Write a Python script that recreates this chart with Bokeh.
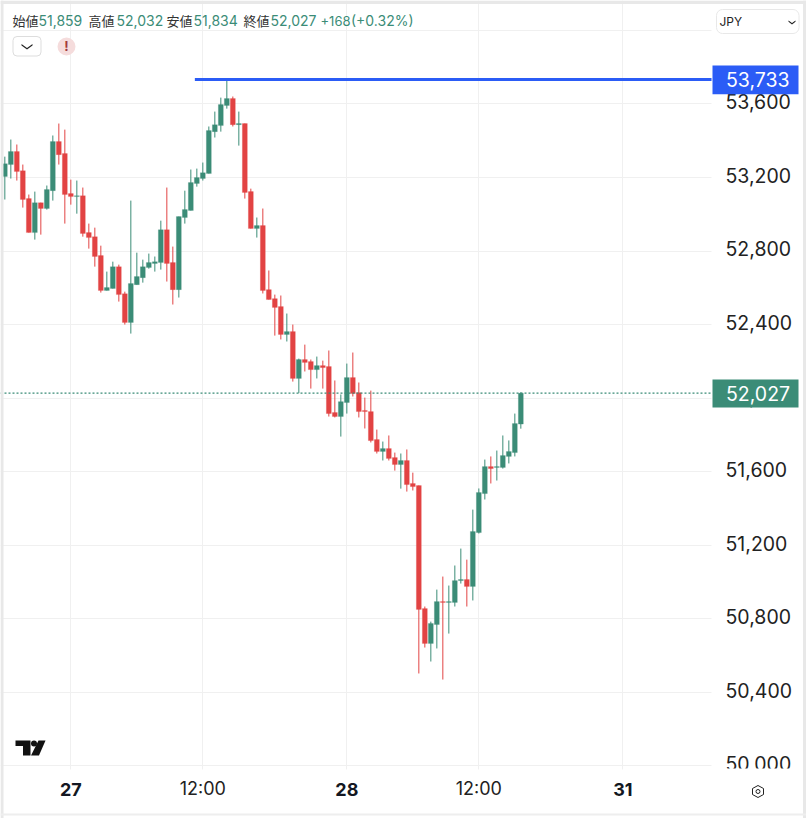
from bokeh.embed import file_html
from bokeh.resources import INLINE
from bokeh.plotting import figure
from bokeh.models import ColumnDataSource, Label, BoxAnnotation, PolyAnnotation, FixedTicker, Range1d, LinearAxis

opens = [53205,53270,53341,53237,53085,52900,53063,53031,53128,53395,53330,53112,53096,53101,52900,52878,52775,52585,52596,52715,52568,52411,52617,52655,52710,52732,52737,52916,52737,52590,52982,53020,53167,53194,53221,53449,53482,53591,53629,53487,53493,53123,52922,52938,52590,52541,52498,52346,52362,52107,52210,52199,52155,52177,52172,51922,51900,51976,52112,52030,51933,51927,51775,51710,51726,51677,51639,51661,51536,51525,50856,50666,50769,50894,50889,50889,51008,51014,50976,51269,51481,51628,51623,51623,51683,51704,51859]
highs = [53313,53406,53379,53270,53107,53123,53063,53156,53428,53493,53460,53188,53183,53145,52949,52927,52829,52688,52742,52726,52579,53074,52791,52753,52786,52770,52965,53145,52824,52987,53128,53243,53248,53281,53477,53558,53634,53733,53640,53558,53493,53139,52982,53031,52694,52563,52558,52460,52400,52215,52291,52210,52226,52204,52259,52096,52020,52188,52248,52085,52003,52041,51829,51764,51797,51704,51699,51721,51595,51525,50867,50785,50959,51030,50981,51090,51182,51122,51394,51509,51666,51683,51715,51797,51770,51916,52032]
lows = [53080,53194,53183,53036,52900,52862,52889,53025,53074,53270,52949,53052,53003,52878,52813,52715,52574,52585,52596,52525,52400,52351,52617,52628,52704,52688,52699,52634,52509,52547,52949,53020,53150,53183,53221,53417,53449,53574,53477,53373,53085,52922,52873,52569,52536,52340,52319,52308,52090,52027,52145,52052,52107,52052,51900,51895,51791,51916,52009,51895,51835,51759,51699,51661,51661,51606,51508,51492,51498,50503,50644,50568,50639,50470,50720,50867,50992,50867,50900,51264,51449,51536,51552,51617,51645,51683,51834]
closes = [53275,53341,53232,53080,52900,53063,53031,53134,53395,53324,53107,53096,53101,52895,52873,52770,52585,52601,52715,52563,52411,52623,52661,52715,52737,52742,52916,52732,52590,52987,53025,53172,53199,53226,53455,53487,53596,53629,53487,53493,53118,52922,52938,52585,52536,52493,52346,52362,52107,52210,52194,52155,52177,52166,51916,51900,51981,52112,52025,51927,51927,51769,51710,51726,51672,51639,51661,51530,51519,50851,50666,50775,50894,50889,50894,51008,51014,50976,51275,51487,51628,51617,51628,51688,51710,51862,52027]

price_ticks = [50000,50400,50800,51200,51600,52000,52400,52800,53200,53600,54000]
price_labels = ["50,000","50,400","50,800","51,200","51,600","52,000","52,400","52,800","53,200","53,600",""]
time_ticks = [11,33,57,79,103]
time_labels = ["27","12:00","28","12:00","31"]
bold_time = {"27","28","31"}
high_level = 53733
last_price = 52027
blue_start = 31.67

UP, DOWN, BLUE = "#3b8c77", "#e24343", "#2b5cf6"
GRID = "#f0f0f0"
FONT = "Inter"
FRAME_GREY = "#e8e8e8"

W, H = 806, 818
X0, X1 = -0.722, 133.61
Y0, Y1 = 49714.5, 54162
PANE_RIGHT = 117.78   # right edge of the price pane
PANE_BOTTOM = 49981   # bottom edge of the price pane

p = figure(width=W, height=H, output_backend="svg", toolbar_location=None,
           x_range=Range1d(X0, X1), y_range=Range1d(Y0, Y1),
           min_border_left=0, min_border_top=0, min_border_right=0, min_border_bottom=0,
           x_axis_location=None, y_axis_location=None, outline_line_color=None,
           background_fill_color="white", border_fill_color="white")

p.xgrid.ticker = FixedTicker(ticks=time_ticks)
p.ygrid.ticker = FixedTicker(ticks=price_ticks)
p.xgrid.grid_line_color = GRID
p.ygrid.grid_line_color = GRID


def sy(y):
    return H - y


def box(x0, y0, x1, y1, fill="white", line=None, radius=0, alpha=1.0, level="annotation"):
    p.add_layout(BoxAnnotation(left=x0, right=x1, top=sy(y0), bottom=sy(y1),
                               left_units="screen", right_units="screen", top_units="screen", bottom_units="screen",
                               fill_color=fill, fill_alpha=alpha, line_color=line, line_alpha=1, border_radius=radius,
                               editable=False, level=level))


def poly(pts, fill="black", line=None, width=1):
    p.add_layout(PolyAnnotation(xs=[a for a, _ in pts], ys=[sy(b) for _, b in pts],
                                xs_units="screen", ys_units="screen",
                                fill_color=fill, fill_alpha=1 if fill else 0, line_color=line, line_alpha=1,
                                line_width=width, editable=False))


def text(x, y, s, color="#333333", size=13, align="left", bold=False, font=FONT):
    p.add_layout(Label(x=x, y=sy(y), x_units="screen", y_units="screen", text=s, text_color=color,
                       text_font=font, text_font_size=f"{size}px", text_align=align, text_baseline="middle",
                       text_font_style="bold" if bold else "normal"))


# gridlines stop at the edge of the price pane
box(711, 0, 806, 818, level="underlay")
box(0, 769, 806, 818, level="underlay")

ax = LinearAxis(fixed_location=PANE_BOTTOM)
ax.ticker = FixedTicker(ticks=time_ticks)
ax.major_label_overrides = {t: ("" if l in bold_time else l) for t, l in zip(time_ticks, time_labels)}
ax.axis_line_color = None
ax.major_tick_line_color = None
ax.minor_tick_line_color = None
ax.major_label_text_font = FONT
ax.major_label_text_font_size = "18px"
ax.major_label_text_color = "#222222"
ax.major_label_standoff = 3
p.add_layout(ax, "below")

# price labels sit 2px above their gridlines, as in the reference
p.extra_y_ranges = {"labels": Range1d(Y0 - 11, Y1 - 11)}
ay = LinearAxis(y_range_name="labels", fixed_location=PANE_RIGHT)
ay.ticker = FixedTicker(ticks=price_ticks)
ay.major_label_overrides = dict(zip(price_ticks, price_labels))
ay.axis_line_color = None
ay.major_tick_line_color = None
ay.minor_tick_line_color = None
ay.major_label_text_font = FONT
ay.major_label_text_font_size = "19.5px"
ay.major_label_text_color = "#222222"
ay.major_label_standoff = 8
p.add_layout(ay, "right")

idx = list(range(len(opens)))
colors = [UP if c >= o else DOWN for o, c in zip(opens, closes)]
src = ColumnDataSource(dict(x=idx, o=opens, h=highs, l=lows, c=closes, color=colors,
                            top=[max(a, b) for a, b in zip(opens, closes)],
                            bot=[min(a, b) for a, b in zip(opens, closes)]))
p.segment("x", "h", "x", "l", source=src, line_color="color", line_width=1)
p.vbar("x", 0.83, "bot", "top", source=src, fill_color="color", line_color="color", line_width=0.2)

p.segment([blue_start], [high_level], [PANE_RIGHT], [high_level], line_color=BLUE, line_width=3)
p.segment([X0], [last_price], [PANE_RIGHT], [last_price], line_color=UP, line_width=1.2, line_dash="2 2")

# cover clipping the lowest price label at the pane edge
box(712, 768, 798, 779)

# card edge
box(0, 0, 3, 818, fill=FRAME_GREY)
box(0, 0, 806, 3.5, fill=FRAME_GREY)
box(802.5, 0, 806, 818, fill=FRAME_GREY)
box(0, 813, 806, 815, fill="#eeeeee")

# last value tags
box(712, 65, 798, 93.7, fill=BLUE)
text(725.5, 79, f"{high_level:,}", color="white", size=19.5)
box(712, 379, 798, 407, fill=UP)
text(725.5, 393, f"{last_price:,}", color="white", size=19.5)

# header
CJK = "Noto Sans CJK JP"
for x, s in [(12, "始値"), (88, "高値"), (166, "安値"), (243, "終値")]:
    text(x, 20, s, size=13, font=CJK)
for x, s in [(38, "51,859"), (116, "52,032"), (193, "51,834"), (270, "52,027")]:
    text(x, 20, s, color=UP, size=14)
text(320, 20, "+168", color=UP, size=13)
text(350.5, 20, "(+0.32%)", color=UP, size=14)

# collapse button and alert
box(12.5, 36, 40.5, 55.5, line="#dddddd", radius=4)
poly([(21, 43.5), (26.5, 47.5), (32, 43.5), (32, 45), (26.5, 49), (21, 45)], fill="#222222")
box(57, 37, 75, 55, fill="#f5dcdc", radius=9)
text(66, 45.5, "!", color="#a33a3a", size=13, align="center", bold=True)

# currency select
box(716, 9, 798.5, 33, line="#e8e8e8", radius=6)
text(719, 21, "JPY", color="#222222", size=12)
poly([(788, 20), (791.5, 22.5), (795, 20), (795, 21.2), (791.5, 24), (788, 21.2)], fill="#222222")

# bold day labels under the axis
for t, l in zip(time_ticks, time_labels):
    if l in bold_time:
        p.add_layout(Label(x=t, y=sy(789), x_units="data", y_units="screen", text=l, text_color="#131722",
                           text_font=FONT, text_font_size="18px", text_font_style="bold",
                           text_align="center", text_baseline="middle"))

# logo
poly([(15, 740), (30, 740), (30, 755), (22.5, 755), (22.5, 745.5), (15, 745.5)], fill="#111111")
box(30.5, 740, 36.5, 746, fill="#111111", radius=3)
poly([(38, 740), (45, 740), (38.5, 755), (30.5, 755)], fill="#111111")

# settings icon
poly([(757.5, 785), (763, 788), (763, 794), (757.5, 797), (752, 794), (752, 788)], fill=None, line="#222222")
box(755.5, 789, 759.5, 793, line="#222222", radius=2)

open("out.html", "w").write(file_html(p, INLINE))
